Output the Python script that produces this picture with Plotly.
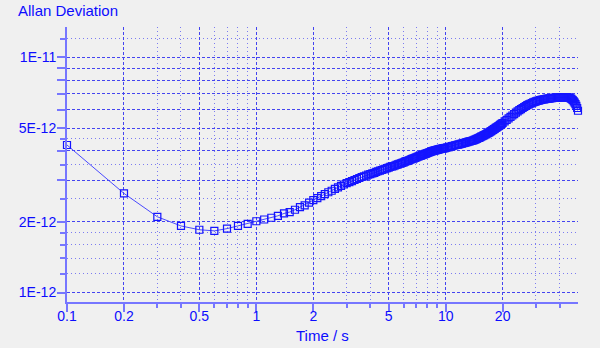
import plotly.graph_objects as go

# Averaging time (s) and Allan deviation (units of 1E-12)
tau_fine = [0.1, 0.2, 0.3, 0.4, 0.5, 0.6, 0.7, 0.8, 0.9, 1.0,
            1.1, 1.2, 1.3, 1.4, 1.5, 1.6, 1.7, 1.8, 1.9, 2.0,
            2.1, 2.2, 2.3, 2.4, 2.5, 2.6, 2.7, 2.8, 2.9, 3.0,
            3.1, 3.2, 3.3, 3.4, 3.5, 3.6, 3.7, 3.8, 3.9, 4.0,
            4.1, 4.2, 4.3, 4.4, 4.5, 4.6, 4.7, 4.8, 4.9, 5.0,
            5.1, 5.2, 5.3, 5.4, 5.5, 5.6, 5.7, 5.8, 5.9, 6.0,
            6.1, 6.2, 6.3, 6.4, 6.5, 6.6, 6.7, 6.8, 6.9, 7.0,
            7.1, 7.2, 7.3, 7.4, 7.5, 7.6, 7.7, 7.8, 7.9, 8.0,
            8.1, 8.2, 8.3, 8.4, 8.5, 8.6, 8.7, 8.8, 8.9, 9.0,
            9.1, 9.2, 9.3, 9.4, 9.5, 9.6, 9.7, 9.8, 9.9, 10.0]
adev_fine = [4.24, 2.64, 2.10, 1.92, 1.85, 1.83, 1.87, 1.92, 1.96, 2.01,
             2.045, 2.08, 2.12, 2.17, 2.20, 2.25, 2.31, 2.35, 2.41, 2.47,
             2.52, 2.57, 2.62, 2.67, 2.71, 2.76, 2.80, 2.84, 2.88, 2.92,
             2.95, 2.98, 3.01, 3.04, 3.07, 3.10, 3.12, 3.14, 3.17, 3.19,
             3.21, 3.23, 3.26, 3.28, 3.30, 3.32, 3.34, 3.36, 3.38, 3.40,
             3.42, 3.44, 3.45, 3.47, 3.49, 3.51, 3.53, 3.54, 3.56, 3.58,
             3.60, 3.62, 3.63, 3.65, 3.67, 3.69, 3.71, 3.72, 3.74, 3.76,
             3.78, 3.79, 3.81, 3.82, 3.84, 3.86, 3.87, 3.89, 3.90, 3.92,
             3.93, 3.95, 3.96, 3.98, 3.99, 4.00, 4.01, 4.02, 4.03, 4.04,
             4.05, 4.06, 4.07, 4.08, 4.08, 4.09, 4.10, 4.11, 4.11, 4.12]

tau_mid = [10.2, 10.4, 10.6, 10.8, 11.0, 11.2, 11.4, 11.6, 11.8, 12.0,
           12.2, 12.4, 12.6, 12.8, 13.0, 13.2, 13.4, 13.6, 13.8, 14.0,
           14.2, 14.4, 14.6, 14.8, 15.0, 15.2, 15.4, 15.6, 15.8, 16.0,
           16.2, 16.4, 16.6, 16.8, 17.0, 17.2, 17.4, 17.6, 17.8, 18.0,
           18.2, 18.4, 18.6, 18.8, 19.0, 19.2, 19.4, 19.6, 19.8, 20.0]
adev_mid = [4.14, 4.15, 4.17, 4.19, 4.21, 4.23, 4.24, 4.26, 4.27, 4.29,
            4.30, 4.32, 4.33, 4.35, 4.36, 4.38, 4.39, 4.41, 4.42, 4.44,
            4.46, 4.48, 4.50, 4.53, 4.55, 4.57, 4.60, 4.62, 4.65, 4.67,
            4.70, 4.72, 4.75, 4.77, 4.80, 4.83, 4.86, 4.89, 4.92, 4.95,
            4.98, 5.01, 5.04, 5.07, 5.10, 5.13, 5.16, 5.19, 5.23, 5.26]

tau_long = [20.5, 21.0, 21.5, 22.0, 22.5, 23.0, 23.5, 24.0, 24.5, 25.0,
            25.5, 26.0, 26.5, 27.0, 27.5, 28.0, 28.5, 29.0, 29.5, 30.0,
            30.5, 31.0, 31.5, 32.0, 32.5, 33.0, 33.5, 34.0, 34.5, 35.0,
            35.5, 36.0, 36.5, 37.0, 37.5, 38.0, 38.5, 39.0, 39.5, 40.0,
            40.5, 41.0, 41.5, 42.0, 42.5, 43.0, 43.5, 44.0, 44.5, 45.0,
            45.5, 46.0, 46.5, 47.0, 47.5, 48.0, 48.5, 49.0, 49.5, 50.0]
adev_long = [5.34, 5.42, 5.50, 5.58, 5.66, 5.74, 5.82, 5.89, 5.96, 6.03,
             6.09, 6.15, 6.21, 6.26, 6.31, 6.35, 6.39, 6.43, 6.47, 6.50,
             6.53, 6.55, 6.58, 6.60, 6.62, 6.63, 6.65, 6.66, 6.67, 6.68,
             6.69, 6.70, 6.71, 6.72, 6.72, 6.73, 6.74, 6.74, 6.75, 6.75,
             6.76, 6.76, 6.77, 6.77, 6.77, 6.77, 6.77, 6.76, 6.75, 6.73,
             6.70, 6.67, 6.62, 6.57, 6.50, 6.42, 6.33, 6.22, 6.09, 5.93]

x_major = [0.1, 0.2, 0.5, 1, 2, 5, 10, 20]
x_major_text = ["0.1", "0.2", "0.5", "1", "2", "5", "10", "20"]
x_minor = [0.3, 0.4, 0.6, 0.7, 0.8, 0.9, 3, 4, 6, 7, 8, 9, 30, 40]
y_major = [1e-12, 2e-12, 3e-12, 4e-12, 5e-12, 6e-12, 7e-12, 8e-12, 9e-12, 1e-11]
y_major_text = ["1E-12", "2E-12", "", "", "5E-12", "", "", "", "", "1E-11"]
y_minor = [1.2e-12, 1.4e-12, 1.6e-12, 1.8e-12, 2.5e-12, 3.5e-12, 4.5e-12, 1.2e-11]

tau = tau_fine + tau_mid + tau_long
adev = [v * 1e-12 for v in adev_fine + adev_mid + adev_long]

TEXT = "#0c0cff"
AXIS = "#7676ff"
GRID_MAJ = "#4444f0"
GRID_MIN = "#7c7cf0"
BG = "#f0f0f0"
FONT = "Liberation Sans, Arial, sans-serif"

fig = go.Figure()
fig.add_trace(go.Scatter(
    x=tau, y=adev, mode="lines+markers", cliponaxis=False,
    line=dict(color="#4a4aff", width=1),
    marker=dict(symbol="square-open", size=7, color="#1414ff",
                line=dict(width=1.2, color="#1414ff")),
    showlegend=False,
))

fig.update_layout(
    width=600, height=348,
    margin=dict(l=67, r=22, t=27, b=46, pad=0),
    paper_bgcolor=BG, plot_bgcolor=BG,
    font=dict(family=FONT, size=14, color=TEXT),
    title=dict(text="Allan Deviation", xref="container", yref="container",
               x=18 / 600, xanchor="left", y=1 - 11 / 348, yanchor="middle",
               font=dict(family=FONT, size=15, color=TEXT)),
    annotations=[dict(text="Time / s", xref="paper", yref="paper",
                      x=0.5, y=(302 - 335) / 275, xanchor="center",
                      yanchor="middle", showarrow=False,
                      font=dict(family=FONT, size=15, color=TEXT))],
)

fig.update_xaxes(
    type="log", range=[-1, 1.699], automargin=False,
    tickmode="array", tickvals=x_major, ticktext=x_major_text,
    ticks="outside", ticklen=8, tickwidth=1.5, tickcolor=AXIS,
    showline=True, linecolor=AXIS, linewidth=2,
    showgrid=True, gridcolor=GRID_MAJ, gridwidth=1, griddash="3px,2px",
    zeroline=False, tickfont=dict(size=14, color=TEXT),
    ticklabelstandoff=-8,
    minor=dict(tickvals=x_minor, ticks="outside", ticklen=4, tickwidth=1.5,
               tickcolor=AXIS, showgrid=True, gridcolor=GRID_MIN,
               gridwidth=1, griddash="1px,3px"),
)

fig.update_yaxes(
    type="log", range=[-12.040, -10.871], automargin=False,
    tickmode="array", tickvals=y_major, ticktext=y_major_text,
    ticks="outside", ticklen=8, tickwidth=1.5, tickcolor=AXIS,
    showline=True, linecolor=AXIS, linewidth=2,
    showgrid=True, gridcolor=GRID_MAJ, gridwidth=1, griddash="3px,2px",
    zeroline=False, tickfont=dict(size=14, color=TEXT),
    ticklabelstandoff=-2,
    minor=dict(tickvals=y_minor, ticks="outside", ticklen=5, tickwidth=1.5,
               tickcolor=AXIS, showgrid=True, gridcolor=GRID_MIN,
               gridwidth=1, griddash="1px,3px"),
)

fig.write_html("out.html")
